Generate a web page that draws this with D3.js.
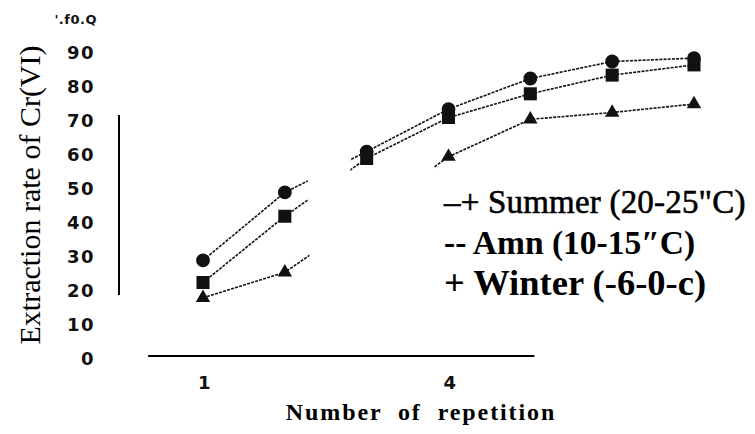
<!DOCTYPE html>
<html>
<head>
<meta charset="utf-8">
<script src="https://cdn.jsdelivr.net/npm/d3@7"></script>
<style>
  body { margin: 0; background: #fff; }
  svg { display: block; }
  .tick-label { font-family: "DejaVu Sans", sans-serif; font-weight: bold; font-size: 18px; fill: #111; letter-spacing: 1.5px; }
  .line { fill: none; stroke: #111; stroke-width: 1.6; stroke-dasharray: 3 1.2; }
  .axis-line { stroke: #000; stroke-width: 2; }
  .serif { font-family: "Liberation Serif", serif; fill: #000; }
</style>
</head>
<body>
<svg width="755" height="434"></svg>
<script>
const repetitions = [1, 2, 3, 4, 5, 6, 7];
const summer = [29, 49, 61, 73.5, 82.5, 87.5, 88.5];
const autumn = [22.5, 42, 59, 71, 78, 83.5, 86.5];
const winter = [18, 25.5, 42, 59.5, 70.5, 72.5, 75];
const yTicks = [0, 10, 20, 30, 40, 50, 60, 70, 80, 90];
const xTicks = [1, 4];

const series = [
  { name: "Summer", values: summer, symbol: d3.symbolCircle, size: 150, gap: [2.28, 2.8] },
  { name: "Amn", values: autumn, symbol: d3.symbolSquare, size: 170, gap: [2.28, 2.8] },
  { name: "Winter", values: winter, symbol: d3.symbolTriangle, size: 90, gap: [2.3, 3.82] }
];

const svg = d3.select("svg"),
    width = +svg.attr("width"),
    height = +svg.attr("height");

const x = d3.scaleLinear().domain([1, 7]).range([203, 694]);
const y = d3.scaleLinear().domain([0, 100]).range([359, 19]);

// what is left of the axes
svg.append("line").attr("class", "axis-line")
    .attr("x1", 119).attr("x2", 119)
    .attr("y1", y(71.8)).attr("y2", y(18.8));
svg.append("line").attr("class", "axis-line")
    .attr("x1", x(0.33)).attr("x2", x(5.05))
    .attr("y1", y(0.9)).attr("y2", y(0.9));

// y tick labels
svg.selectAll(".ytick")
    .data(yTicks)
    .enter()
    .append("text")
    .attr("class", "tick-label")
    .attr("x", 95)
    .attr("y", d => y(d))
    .attr("dy", "0.36em")
    .attr("text-anchor", "end")
    .text(d => d);

svg.append("text")
    .attr("class", "tick-label")
    .attr("x", 97).attr("y", y(100)).attr("dy", "0.36em")
    .attr("text-anchor", "end")
    .style("font-size", "13px").style("letter-spacing", "0.5px")
    .text("'.f0.Q");

// x tick labels
svg.selectAll(".xtick")
    .data(xTicks)
    .enter()
    .append("text")
    .attr("class", "tick-label")
    .attr("x", d => x(d) + 2)
    .attr("y", 389)
    .attr("text-anchor", "middle")
    .text(d => d);

// axis titles
svg.append("text")
    .attr("class", "serif")
    .attr("transform", "translate(40,195) rotate(-90)")
    .attr("text-anchor", "middle")
    .style("font-size", "30px")
    .text("Extraction rate of Cr(VI)");

svg.append("text")
    .attr("class", "serif")
    .attr("x", 421).attr("y", 420)
    .attr("text-anchor", "middle")
    .style("font-size", "24px").style("font-weight", "bold")
    .style("letter-spacing", "1.9px").style("word-spacing", "8px")
    .text("Number of repetition");

// clip each series so its erased stretch stays blank
const defs = svg.append("defs");
series.forEach((s, i) => {
  const cp = defs.append("clipPath").attr("id", "clip" + i);
  cp.append("rect").attr("x", 0).attr("y", 0)
      .attr("width", x(s.gap[0])).attr("height", height);
  cp.append("rect").attr("x", x(s.gap[1])).attr("y", 0)
      .attr("width", width - x(s.gap[1])).attr("height", height);
});

const line = d3.line()
    .x((d, i) => x(repetitions[i]))
    .y(d => y(d));

const sg = svg.selectAll(".series")
    .data(series)
    .enter()
    .append("g")
    .attr("clip-path", (d, i) => `url(#clip${i})`);

sg.append("path")
    .attr("class", "line")
    .attr("d", d => line(d.values));

sg.each(function(s) {
  d3.select(this).selectAll("path.mark")
      .data(s.values)
      .enter()
      .append("path")
      .attr("class", "mark")
      .attr("transform", (d, i) => `translate(${x(repetitions[i])},${y(d)})`)
      .attr("d", d3.symbol().type(s.symbol).size(s.size))
      .attr("fill", "#111");
});

// legend text
const legendItems = [
  { text: "\u2013+ Summer (20-25\"C)", y: 213, weight: "normal", size: 33, ls: 0.2, stroke: 0.6 },
  { text: "-- Amn (10-15\u2033C)", y: 254, weight: "bold", size: 33.5, ls: 0, stroke: 0 },
  { text: "+ Winter (-6-0-c)", y: 295, weight: "bold", size: 36.5, ls: 0, stroke: 0 }
];
svg.selectAll(".leg")
    .data(legendItems)
    .enter()
    .append("text")
    .attr("class", "serif")
    .attr("x", 444)
    .attr("y", d => d.y)
    .attr("stroke", "#000")
    .attr("stroke-width", d => d.stroke)
    .style("font-size", d => d.size + "px")
    .style("font-weight", d => d.weight)
    .style("letter-spacing", d => d.ls + "px")
    .text(d => d.text);
</script>
</body>
</html>
